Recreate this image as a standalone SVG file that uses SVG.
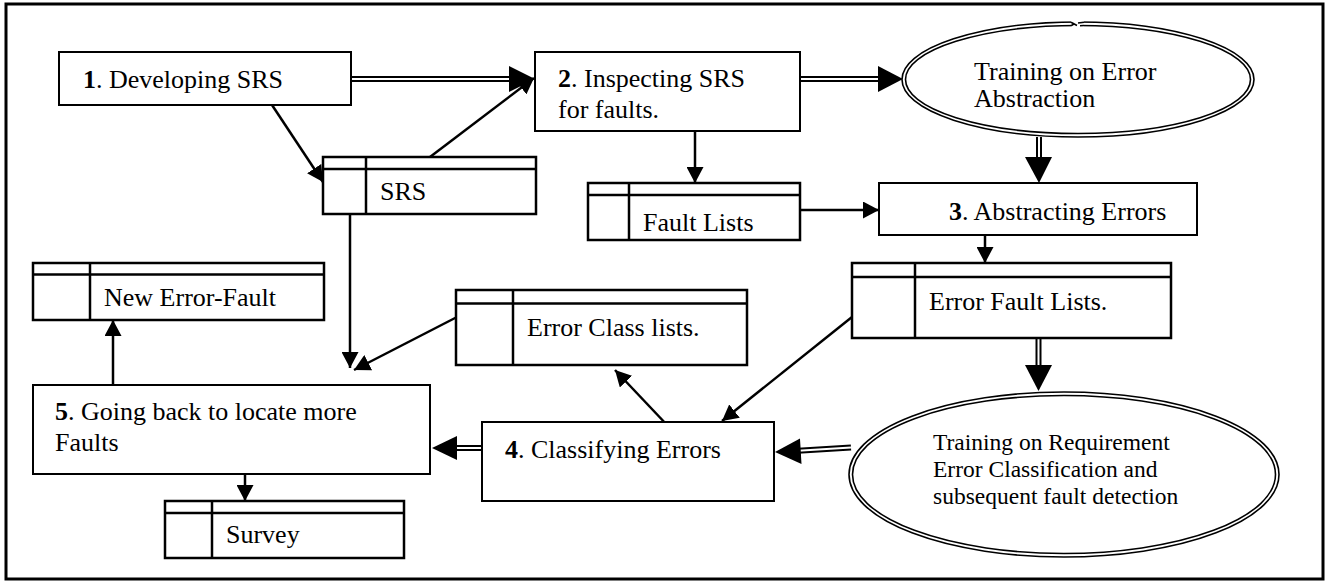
<svg xmlns="http://www.w3.org/2000/svg" width="1330" height="584" viewBox="0 0 1330 584">
<style>
text{font-family:"Liberation Serif","Times New Roman",serif;fill:#000}
.t{font-size:26px}
.s{font-size:23.5px}
.node{fill:#fff;stroke:#000;stroke-width:2}
.store{fill:#fff;stroke:#000;stroke-width:2.5}
.sl{stroke:#000;stroke-width:2.5;fill:none}
.dl{stroke:#000;stroke-width:6;fill:none}
.dw{stroke:#fff;stroke-width:2;fill:none}
.hd{fill:#000;stroke:none}
.ell{fill:none;stroke:#000;stroke-width:1.6}
</style>
<defs>
<marker id="ah" markerUnits="userSpaceOnUse" markerWidth="17" markerHeight="17" refX="16" refY="8.5" orient="auto">
<path d="M0,0 L16,8.5 L0,17 z" fill="#000"/>
</marker>
</defs>
<rect x="0" y="0" width="1330" height="584" fill="#fff"/>
<rect x="6" y="4" width="1317" height="575" fill="none" stroke="#000" stroke-width="3"/>

<g id="connectors">
<line class="sl" x1="272" y1="105" x2="323" y2="182" marker-end="url(#ah)"/>
<line class="sl" x1="430" y1="157" x2="534" y2="78" marker-end="url(#ah)"/>
<line class="sl" x1="695" y1="131" x2="695" y2="183" marker-end="url(#ah)"/>
<line class="sl" x1="800" y1="210" x2="879" y2="210" marker-end="url(#ah)"/>
<line class="sl" x1="985" y1="235" x2="985" y2="263" marker-end="url(#ah)"/>
<line class="sl" x1="350" y1="209" x2="350" y2="368" marker-end="url(#ah)"/>
<line class="sl" x1="457" y1="317" x2="354" y2="370" marker-end="url(#ah)"/>
<line class="sl" x1="113" y1="385" x2="113" y2="320" marker-end="url(#ah)"/>
<line class="sl" x1="245" y1="474" x2="245" y2="501" marker-end="url(#ah)"/>
<line class="sl" x1="668" y1="426" x2="615" y2="370" marker-end="url(#ah)"/>
<line class="sl" x1="852" y1="317" x2="722" y2="421" marker-end="url(#ah)"/>

<line class="dl" x1="351" y1="79" x2="511" y2="79"/>
<line class="dw" x1="351" y1="79" x2="511" y2="79"/>
<polygon class="hd" points="509,66 535,79 509,92"/>

<line class="dl" x1="800" y1="79" x2="880" y2="79"/>
<line class="dw" x1="800" y1="79" x2="880" y2="79"/>
<polygon class="hd" points="878,66 903,79 878,92"/>

<line class="dl" x1="1039" y1="137" x2="1039" y2="159"/>
<line class="dw" x1="1039" y1="137" x2="1039" y2="159"/>
<polygon class="hd" points="1025,157 1039,183 1052,157"/>

<line class="dl" x1="1038.5" y1="338" x2="1038.5" y2="367"/>
<line class="dw" x1="1038.5" y1="338" x2="1038.5" y2="367"/>
<polygon class="hd" points="1025,365 1038.5,391 1052,365"/>

<line class="dl" x1="851" y1="447.5" x2="798" y2="450.8"/>
<line class="dw" x1="851" y1="447.5" x2="798" y2="450.8"/>
<polygon class="hd" points="800,438.5 775,452 801.5,464"/>

<line class="dl" x1="482" y1="448" x2="455" y2="448"/>
<line class="dw" x1="482" y1="448" x2="455" y2="448"/>
<polygon class="hd" points="457,436 432,448 457,460"/>
</g>

<g id="n1">
<rect class="node" x="59" y="52" width="292" height="53"/>
<text class="t" x="83" y="88"><tspan font-weight="bold">1</tspan>. Developing SRS</text>
</g>

<g id="n2">
<rect class="node" x="535" y="52" width="265" height="79"/>
<text class="t" x="558" y="87"><tspan font-weight="bold">2</tspan>. Inspecting SRS</text>
<text class="t" x="558" y="118">for faults.</text>
</g>

<g id="e1">
<ellipse cx="1078" cy="79.5" rx="176" ry="57.5" fill="#fff" stroke="none"/>
<ellipse class="ell" cx="1078" cy="79.5" rx="176" ry="57.5"/>
<ellipse class="ell" cx="1078" cy="79.5" rx="172.5" ry="54"/>
<rect x="1071" y="20" width="13" height="9" fill="#fff"/>
<path class="ell" d="M1071,22.3 L1077,25.5 M1071,25.7 L1074,24 M1078,23 L1084,22.3 M1080,25.7 L1084,25.5"/>
<text class="t" x="974" y="80">Training on Error</text>
<text class="t" x="974" y="107">Abstraction</text>
</g>

<g id="srs">
<rect class="store" x="323" y="157" width="213" height="57"/>
<line class="sl" x1="323" y1="169" x2="536" y2="169"/>
<line class="sl" x1="366" y1="157" x2="366" y2="214"/>
<text class="t" x="380" y="200">SRS</text>
</g>

<g id="fl">
<rect class="store" x="588" y="183" width="212" height="57"/>
<line class="sl" x1="588" y1="195" x2="800" y2="195"/>
<line class="sl" x1="629" y1="183" x2="629" y2="240"/>
<text class="t" x="643" y="231">Fault Lists</text>
</g>

<g id="n3">
<rect class="node" x="879" y="183" width="318" height="52"/>
<text class="t" x="949" y="220"><tspan font-weight="bold">3</tspan>. Abstracting Errors</text>
</g>

<g id="efl">
<rect class="store" x="852" y="263" width="319" height="75"/>
<line class="sl" x1="852" y1="277" x2="1171" y2="277"/>
<line class="sl" x1="915" y1="263" x2="915" y2="338"/>
<text class="t" x="929" y="310">Error Fault Lists.</text>
</g>

<g id="nef">
<rect class="store" x="33" y="263" width="291" height="57"/>
<line class="sl" x1="33" y1="274.5" x2="324" y2="274.5"/>
<line class="sl" x1="90" y1="263" x2="90" y2="320"/>
<text class="t" x="104" y="306">New Error-Fault</text>
</g>

<g id="ecl">
<rect class="store" x="456" y="290" width="291" height="75"/>
<line class="sl" x1="456" y1="303.5" x2="747" y2="303.5"/>
<line class="sl" x1="513" y1="290" x2="513" y2="365"/>
<text class="t" x="527" y="336">Error Class lists.</text>
</g>

<g id="n5">
<rect class="node" x="33" y="385" width="397" height="89"/>
<text class="t" x="55" y="420"><tspan font-weight="bold">5</tspan>. Going back to locate more</text>
<text class="t" x="55" y="451">Faults</text>
</g>

<g id="n4">
<rect class="node" x="482" y="422" width="292" height="79"/>
<text class="t" x="505" y="458"><tspan font-weight="bold">4</tspan>. Classifying Errors</text>
</g>

<g id="e2">
<ellipse class="ell" cx="1064" cy="474.5" rx="215" ry="82.5"/>
<ellipse class="ell" cx="1064" cy="474.5" rx="211.5" ry="79"/>
<text class="s" x="933" y="450">Training on Requirement</text>
<text class="s" x="933" y="477">Error Classification and</text>
<text class="s" x="933" y="504">subsequent fault detection</text>
</g>

<g id="survey">
<rect class="store" x="165" y="501" width="239" height="57"/>
<line class="sl" x1="165" y1="513" x2="404" y2="513"/>
<line class="sl" x1="212" y1="501" x2="212" y2="558"/>
<text class="t" x="226" y="543">Survey</text>
</g>
</svg>
